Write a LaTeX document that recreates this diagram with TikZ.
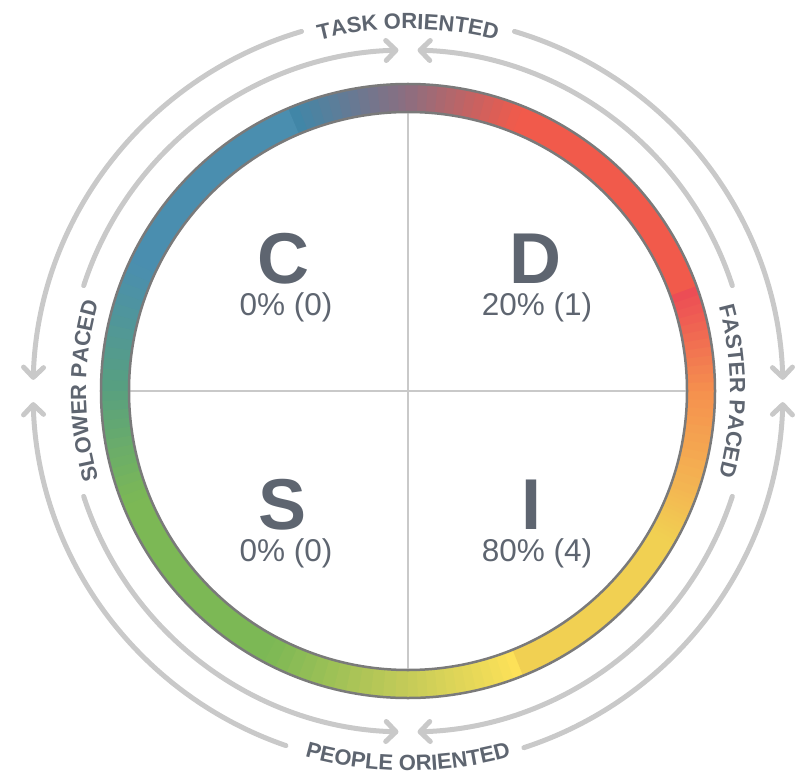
\documentclass[tikz,border=0pt]{standalone}
\usepackage{fontspec}
\setmainfont{Liberation Sans}
\usetikzlibrary{arrows.meta, decorations.text}

\definecolor{inkgray}{HTML}{5E6570}
\definecolor{guidegray}{HTML}{C9C9C9}
\definecolor{rimgray}{HTML}{7A7A7A}
\definecolor{rMauve}{HTML}{8C6E80}
\definecolor{rBlueDeep}{HTML}{3E87A9}
\definecolor{rBlue}{HTML}{4A8EAF}
\definecolor{rTeal}{HTML}{58A07F}
\definecolor{rGreen}{HTML}{7CB855}
\definecolor{rOlive}{HTML}{C5CB58}
\definecolor{rLemon}{HTML}{FFE258}
\definecolor{rYellow}{HTML}{F1D052}
\definecolor{rAmber}{HTML}{F3B752}
\definecolor{rOrange}{HTML}{F5904E}
\definecolor{rPink}{HTML}{EC4A55}
\definecolor{rRed}{HTML}{F15A4B}

\newcommand\axisfont{\color{inkgray}\bfseries\fontsize{22}{22}\selectfont}

\tikzset{
  guide/.style={draw=guidegray, line width=5pt, line cap=round, -{Straight Barb[length=10pt,width=20pt,round]}},
  cross/.style={draw=guidegray, line width=2.5pt},
  rim/.style={draw=rimgray, line width=2.5pt},
  letter/.style={text=inkgray, inner sep=0pt, font=\fontsize{72}{72}\selectfont\bfseries},
  score/.style={text=inkgray, inner sep=0pt, font=\fontsize{31.5}{31.5}\selectfont},
  axistext/.style={decorate, decoration={text along path, text align=center, text={|\axisfont|#1}}}
}

\begin{document}
\begin{tikzpicture}[x=1pt,y=1pt]
\useasboundingbox (-408,-385) rectangle (391,391);

\coordinate (top) at (90:279);
\coordinate (bottom) at (-90:279);
\coordinate (left) at (180:279);
\coordinate (right) at (0:279);
\draw[cross] (top) -- (bottom);
\draw[cross] (left) -- (right);

\foreach \a/\b/\ca/\cb in {-270/-247/rMauve/rBlueDeep, -247/-205/rBlue/rBlue, -205/-180/rBlue/rTeal,
  -180/-158/rTeal/rGreen, -158/-118/rGreen/rGreen, -118/-90/rGreen/rOlive, -90/-68/rOlive/rLemon,
  -68/-30/rYellow/rYellow, -30/-20/rYellow/rAmber, -20/0/rAmber/rOrange, 0/20/rOrange/rPink,
  20/68/rRed/rRed, 68/90/rRed/rMauve}{
  \foreach \k in {0,...,11}{
    \pgfmathsetmacro\s{\a+((\b)-(\a))*\k/12}
    \pgfmathsetmacro\e{\a+((\b)-(\a))*(\k+1)/12+0.5}
    \pgfmathsetmacro\p{100-100*(\k+0.5)/12}
    \fill[\ca!\p!\cb] (\s:279) arc[start angle=\s,end angle=\e,radius=279]
      -- (\e:307) arc[start angle=\e,end angle=\s,radius=307] -- cycle;
  }
}
\draw[rim] (0,0) circle[radius=307];
\draw[rim] (0,0) circle[radius=279];

\node[letter] (C) at (-125,132) {C};
\node[score] (Cval) at (-122,84) {0\% (0)};
\node[letter] (D) at (127,132) {D};
\node[score] (Dval) at (129,84) {20\% (1)};
\node[letter] (S) at (-125,-114) {S};
\node[score] (Sval) at (-122,-162) {0\% (0)};
\node[letter] (I) at (123,-114) {I};
\node[score] (Ival) at (129,-162) {80\% (4)};

\draw[guide] (162:341) arc[start angle=162,end angle=91.6,radius=341];
\draw[guide] (18:341) arc[start angle=18,end angle=88.4,radius=341];
\draw[guide] (198:341) arc[start angle=198,end angle=268.4,radius=341];
\draw[guide] (-18:341) arc[start angle=-18,end angle=-88.4,radius=341];
\draw[guide] (106.5:375) arc[start angle=106.5,end angle=178.3,radius=375];
\draw[guide] (73.5:375) arc[start angle=73.5,end angle=1.7,radius=375];
\draw[guide] (251:375) arc[start angle=251,end angle=181.7,radius=375];
\draw[guide] (-72:375) arc[start angle=-72,end angle=-1.7,radius=375];

\path[axistext={TASK ORIENTED}] (112:362) arc[start angle=112,end angle=68,radius=362];
\path[axistext={PEOPLE ORIENTED}] (-114:380) arc[start angle=-114,end angle=-66,radius=380];
\path[axistext={SLOWER PACED}] (200:322) arc[start angle=200,end angle=160,radius=322];
\path[axistext={FASTER PACED}] (20:322) arc[start angle=20,end angle=-20,radius=322];
\end{tikzpicture}
\end{document}
